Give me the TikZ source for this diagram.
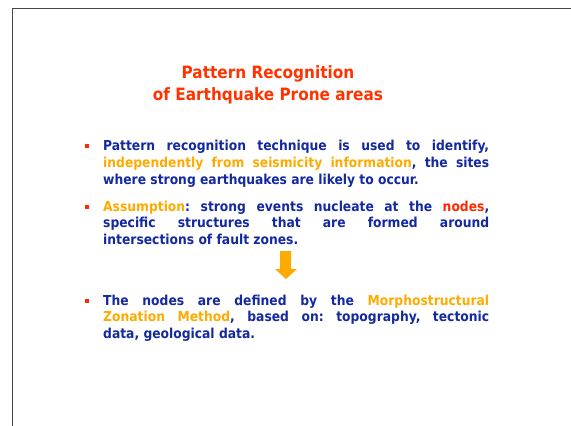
\documentclass[tikz,border=0pt]{standalone}
\usepackage{fontspec}
\setmainfont{DejaVu Sans Condensed}
\definecolor{titlered}{RGB}{255,51,0}
\definecolor{txtblue}{RGB}{20,40,160}
\definecolor{hiorange}{RGB}{255,170,0}
\definecolor{bulletred}{RGB}{255,40,0}
\definecolor{framegray}{RGB}{70,70,70}
\tikzset{
  titletext/.style={anchor=base, inner sep=0pt, text=titlered,
    font=\bfseries\fontsize{17}{22}\selectfont},
  bodytext/.style={anchor=base west, inner sep=0pt, text=txtblue,
    text width=386pt, align=justify,
    font=\bfseries\fontsize{13.7}{16.8}\selectfont\frenchspacing},
  bulletmark/.style={fill=bulletred, inner sep=0pt, minimum size=4pt},
}
\newcommand{\hi}[1]{{\color{hiorange}#1}}
\hyphenpenalty=10000
\exhyphenpenalty=10000
\begin{document}
\begin{tikzpicture}[x=1pt,y=-1pt]
\useasboundingbox (0,0) rectangle (571,426);
% slide frame
\draw[framegray, line width=1pt] (12.5,426) -- (12.5,8.5) -- (571,8.5);
% heading
\node[titletext] (t1) at (268,78) {Pattern Recognition};
\node[titletext] (t2) at (268,100) {of Earthquake Prone areas};
% bullet points
\node[bulletmark] (b1) at (86.5,146) {};
\node[bodytext] (p1) at (103,150.5) {Pattern recognition technique is used to identify,\linebreak
  \hi{independently from seismicity information}, the sites\linebreak
  where strong earthquakes are likely to occur.};
\node[bulletmark] (b2) at (86.5,206.5) {};
\node[bodytext] (p2) at (103,211) {\hi{Assumption}: strong events nucleate at the {\color{bulletred}nodes},\linebreak
  specific structures that are formed around\linebreak
  intersections of fault zones.};
% downward block arrow
\fill[hiorange] (280,251) -- (291,251) -- (291,269) -- (297,269) -- (286,279)
  -- (275,269) -- (280,269) -- cycle;
\node[bulletmark] (b3) at (86.5,300.5) {};
\node[bodytext] (p3) at (103,305) {The nodes are defined by the \hi{Morphostructural}\linebreak
  \hi{Zonation Method}, based on: topography, tectonic\linebreak
  data, geological data.};
\end{tikzpicture}
\end{document}
